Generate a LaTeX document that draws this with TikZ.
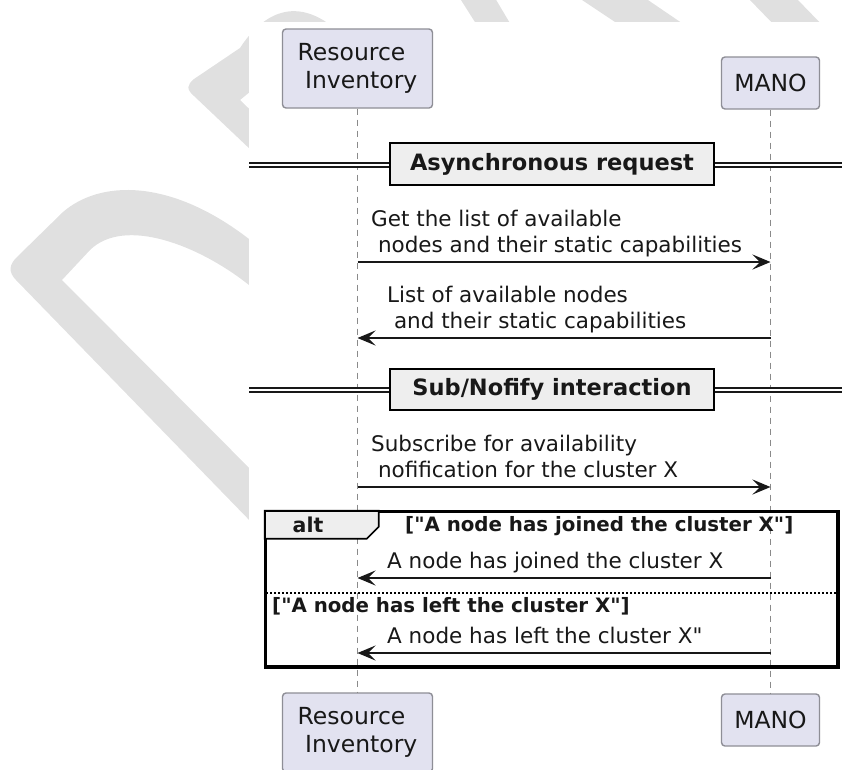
\documentclass[tikz,border=0pt]{standalone}
\usepackage{fontspec}
\setmainfont{DejaVu Sans}
% a family without TeX ligatures, so that " stays a straight quote
\newfontfamily\diagfont{DejaVu Sans}
\usetikzlibrary{arrows.meta}

\definecolor{ink}{HTML}{181818}
\definecolor{partfill}{HTML}{E2E2F0}
\definecolor{partline}{HTML}{8E8E96}
\definecolor{lifegrey}{HTML}{8A8A8A}
\definecolor{bandfill}{HTML}{EEEEEE}
\definecolor{wmgrey}{HTML}{E0E0E0}

% zero-width strut giving every message label the same depth below its last baseline
\newcommand\lastdp{\rule[-5.5pt]{0pt}{5.5pt}}
% leading blank of a continuation line
\newcommand\indentsp{\hspace*{0.318em}}

\tikzset{
  participant/.style={draw=partline, line width=1.4pt, fill=partfill,
    rounded corners=3.5pt, inner sep=0pt, align=left, text=ink,
    font=\diagfont\fontsize{23.5}{28}\selectfont},
  lifeline/.style={draw=lifegrey, line width=1pt, dash pattern=on 6pt off 5pt},
  msgtext/.style={inner sep=0pt, align=left, text=ink, anchor=south west,
    font=\diagfont\fontsize{21.5}{25.5}\selectfont},
  msgarrow/.style={draw=ink, line width=1.6pt,
    -{Stealth[length=18pt, width=15pt, inset=7.5pt]}},
  dividerbox/.style={draw=black, line width=2pt, fill=bandfill,
    minimum width=324pt, minimum height=42pt, inner sep=0pt, text=ink,
    font=\diagfont\bfseries\fontsize{22.5}{27}\selectfont},
  dividerline/.style={draw=ink, line width=1.4pt, double=white, double distance=2.6pt},
  altframe/.style={draw=black, line width=2.5pt, inner sep=0pt,
    minimum width=571pt, minimum height=154pt},
  alttab/.style={draw=black, line width=1.6pt, fill=bandfill},
  alttext/.style={inner sep=0pt, text=ink,
    font=\diagfont\bfseries\fontsize{20.5}{24}\selectfont},
  guardtext/.style={inner sep=0pt, text=ink, anchor=west,
    font=\diagfont\bfseries\fontsize{19.8}{24}\selectfont},
  elsesep/.style={draw=black, line width=1.3pt, dash pattern=on 2pt off 2pt},
  wmshape/.style={fill=wmgrey, draw=none},
}

\begin{document}
\begin{tikzpicture}[x=1pt, y=-1pt]
\useasboundingbox (0,0) rectangle (842,769);

% ---- light grey watermark behind the sheet ----
\begin{scope}[shift={(0,8)}]
\path[wmshape] (290,554) -- (16,272) .. controls (8,264) and (9,256) .. (18,248)
  -- (63,204) .. controls (100,172) and (170,170) .. (249,231) -- (290,262)
  -- (290,310) -- (249,277) .. controls (200,238) and (125,208) .. (90,242)
  -- (62,272) -- (290,501) -- cycle;
\path[wmshape] (290,179) -- (194,88) .. controls (186,81) and (187,77) .. (194,71)
  -- (240,40) .. controls (262,6) and (300,-20) .. (350,35) -- (350,80)
  -- (262,74) -- (240,92) -- (300,150) -- cycle;
\end{scope}
\path[wmshape] (459.7,-2) -- (495,-2) -- (514,30) -- (480,30) -- cycle;
\path[wmshape] (579,-2) -- (645,-2) -- (692,30) -- (627,30) -- cycle;
\path[wmshape] (748,-2) -- (796,-2) -- (827,30) -- (779,30) -- cycle;

% ---- the sheet ----
\fill[white] (249,22) rectangle (850,780);

% ---- participants ----
\node[participant, minimum width=150pt, minimum height=79pt] (riTop) at (357.5,68.5)
  {Resource\\\indentsp Inventory};
\node[participant, minimum width=98pt, minimum height=52pt] (manoTop) at (770.5,83)
  {MANO};
\node[participant, minimum width=150pt, minimum height=79pt] (riBot) at (357.5,732.5)
  {Resource\\\indentsp Inventory};
\node[participant, minimum width=98pt, minimum height=52pt] (manoBot) at (770.5,720)
  {MANO};

% ---- lifelines ----
\draw[lifeline] (riTop.south) -- (riBot.north);
\draw[lifeline] (manoTop.south) -- (manoBot.north);

% ---- divider: Asynchronous request ----
\node[dividerbox] (divA) at (552,164) {Asynchronous request};
\coordinate (divAL) at (249,165);
\coordinate (divAR) at (842,165);
\draw[dividerline] (divAL) -- (divAL -| divA.west);
\draw[dividerline] (divAR -| divA.east) -- (divAR);

% ---- request / reply ----
\coordinate (m1s) at (357.5,262);
\coordinate (m1e) at (770.5,262);
\node[msgtext] (m1t) at (371,258)
  {Get the list of available\\\indentsp nodes and their static capabilities\lastdp};
\draw[msgarrow] (m1s) -- (m1e);

\coordinate (m2s) at (770.5,338);
\coordinate (m2e) at (357.5,338);
\node[msgtext] (m2t) at (387,334)
  {List of available nodes\\\indentsp and their static capabilities\lastdp};
\draw[msgarrow] (m2s) -- (m2e);

% ---- divider: Sub/Nofify interaction ----
\node[dividerbox, minimum height=41pt] (divB) at (552,389.5) {Sub/Nofify interaction};
\coordinate (divBL) at (249,390);
\coordinate (divBR) at (842,390);
\draw[dividerline] (divBL) -- (divBL -| divB.west);
\draw[dividerline] (divBR -| divB.east) -- (divBR);

% ---- subscription ----
\coordinate (m3s) at (357.5,487);
\coordinate (m3e) at (770.5,487);
\node[msgtext] (m3t) at (371,483)
  {Subscribe for availability\\\indentsp nofification for the cluster X\lastdp};
\draw[msgarrow] (m3s) -- (m3e);

% ---- alt fragment ----
\node[altframe] (alt) at (551.5,589) {};
\draw[alttab] (alt.north west) -- ++(114,0) -- ++(0,16) -- ++(-12,12)
  -- ++(-102,0) -- cycle;
\draw[altframe] (alt.north west) rectangle (alt.south east);
\node[alttext] (altlabel) at (308,525) {alt};
\node[guardtext] (guardA) at (405,526) {["A node has joined the cluster X"]};

\coordinate (m4s) at (770.5,578);
\coordinate (m4e) at (357.5,578);
\node[msgtext] (m4t) at (387,574) {A node has joined the cluster X\lastdp};
\draw[msgarrow] (m4s) -- (m4e);

\coordinate (elseL) at (266,593);
\coordinate (elseR) at (837,593);
\draw[elsesep] (elseL) -- (elseR);
\node[guardtext] (guardB) at (272,606) {["A node has left the cluster X"]};

\coordinate (m5s) at (770.5,653);
\coordinate (m5e) at (357.5,653);
\node[msgtext] (m5t) at (387,649) {A node has left the cluster X"\lastdp};
\draw[msgarrow] (m5s) -- (m5e);
\end{tikzpicture}
\end{document}
